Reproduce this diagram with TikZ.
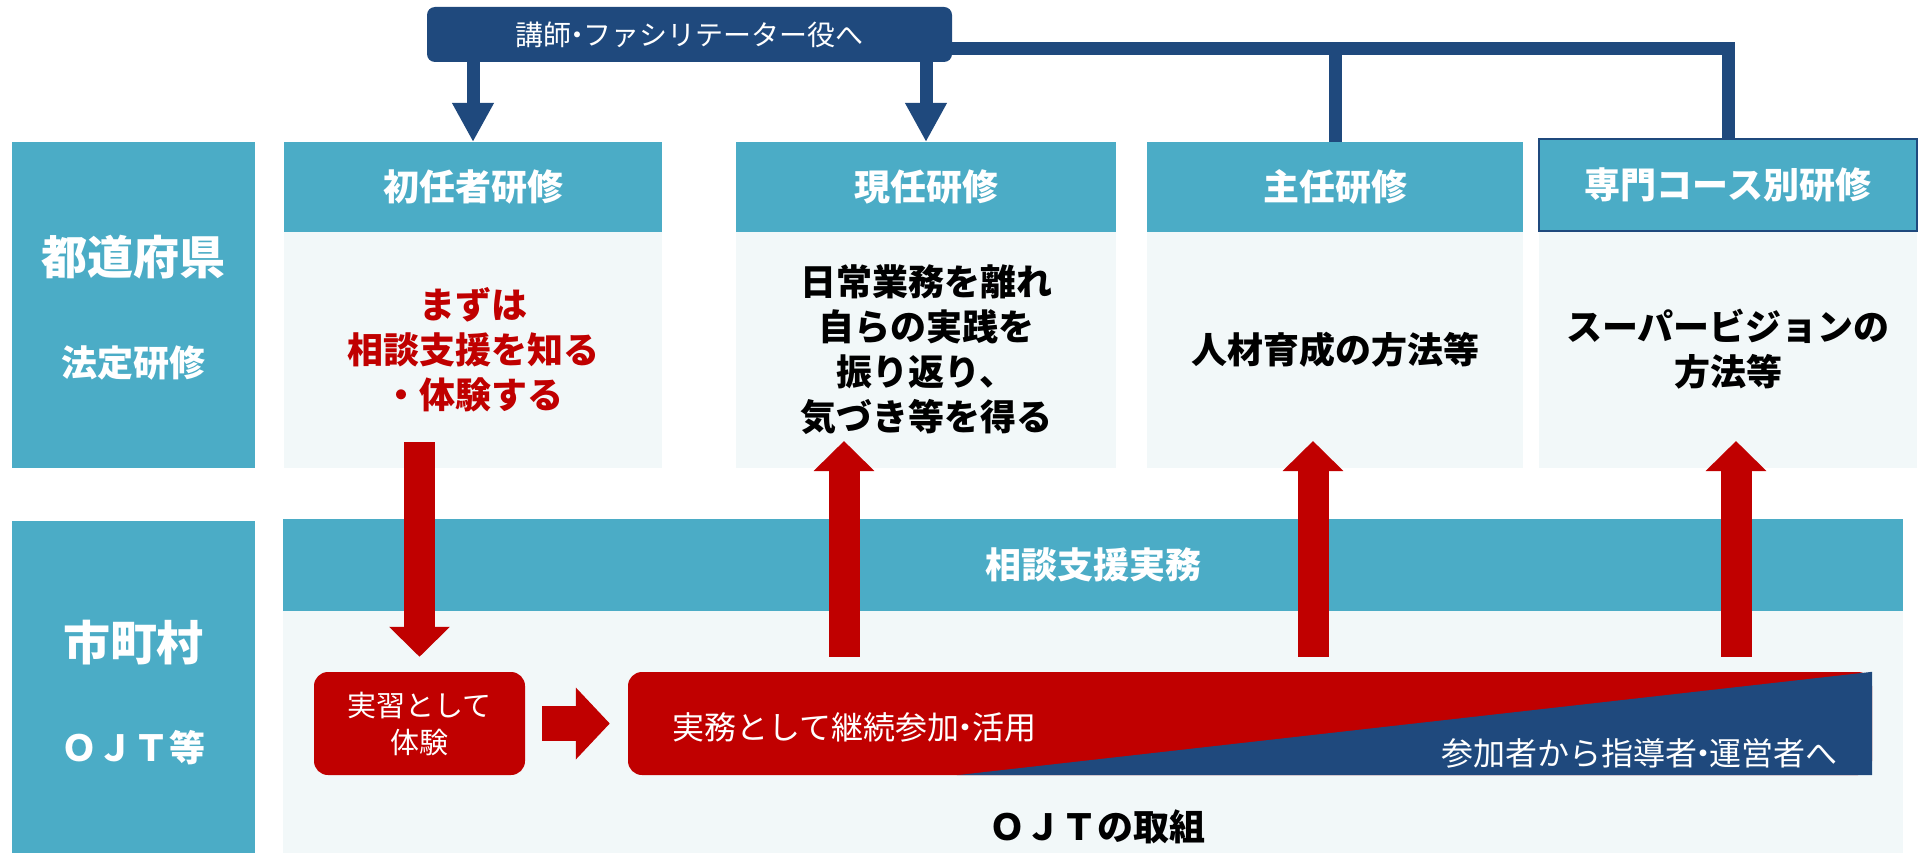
\documentclass[tikz,border=0pt]{standalone}
\usepackage{fontspec}
\setmainfont{Noto Sans CJK JP}
\usetikzlibrary{arrows.meta}
\usetikzlibrary{positioning}
\usetikzlibrary{calc}

\definecolor{aqua}{HTML}{4BACC6}
\definecolor{navy}{HTML}{1F497D}
\definecolor{dred}{HTML}{C00000}
\definecolor{pale}{HTML}{F2F8F9}

% narrow middle dot
\newcommand{\ndot}{\kern-0.3em・\kern-0.3em}

\begin{document}
\begin{tikzpicture}[
    x=1pt, y=-1pt,
    box/.style={
        inner sep=0pt, outer sep=0pt,
        minimum width=378pt,
        align=center
    },
    hdr/.style={box, fill=aqua, text=white, minimum height=90pt,
        font=\bfseries\fontsize{36}{45}\selectfont},
    body/.style={box, fill=pale, minimum height=236pt,
        font=\bfseries\fontsize{36}{45}\selectfont},
    side/.style={box, fill=aqua, minimum width=243pt},
    sidetxt/.style={inner sep=0pt, text=white, font=\bfseries\fontsize{#1}{#1}\selectfont},
    navyline/.style={draw=navy, line width=13pt},
    navyarrow/.style={navyline, -{Triangle[length=39pt, width=39pt]}},
    redarrow/.style={draw=dred, line width=31pt, -{Triangle[length=30pt, width=59pt]}}
]
\useasboundingbox (0,0) rectangle (1923,853);

% prefecture row
\node[side, minimum height=326pt] (pref) at (133.5,305) {};
\node[sidetxt=46] (preft) at (133.5,257) {都道府県};
\node[sidetxt=36] (prefs) at (133.5,363) {法定研修};

\node[hdr] (h1) at (473,187) {初任者研修};
\node[body, below=0pt of h1, text=dred] (b1) {まずは\\相談支援を知る\\・体験する};
\node[hdr, minimum width=380pt] (h2) at (926,187) {現任研修};
\node[body, minimum width=380pt, below=0pt of h2] (b2) {日常業務を離れ\\自らの実践を\\振り返り、\\気づき等を得る};
\node[hdr, minimum width=376pt] (h3) at (1335,187) {主任研修};
\node[body, minimum width=376pt, below=0pt of h3] (b3) {人材育成の方法等};
\node[body, minimum height=237pt] (b4) at (1728,349.5) {スーパービジョンの\\方法等};
\node[hdr, minimum height=92pt, draw=navy, line width=2pt, above=0pt of b4] (h4) {専門コース別研修};

% trainer banner
\node[fill=navy, text=white, rounded corners=8pt, minimum width=525pt, minimum height=55pt,
    inner sep=0pt, font=\fontsize{28}{28}\selectfont] (tr) at (689.5,34.5) {講師\ndot ファシリテーター役へ};
\draw[navyarrow] (h1.north |- tr.south) -- (h1.north);
\draw[navyarrow] (h2.north |- tr.south) -- (h2.north);
\draw[navyline] ([yshift=-14pt]tr.east) -| (h3.north);
\draw[navyline] ([yshift=-14pt]tr.east) -| (h4.north);

% municipality row
\node[side, minimum height=332pt] (muni) at (133.5,687) {};
\node[sidetxt=47] (munit) at (133.5,643) {市町村};
\node[sidetxt=36] (munis) at (133.5,748) {ＯＪＴ等};

\node[box, fill=aqua, text=white, minimum width=1620pt, minimum height=92pt,
    font=\bfseries\fontsize{36}{36}\selectfont] (prac) at (1093,565) {相談支援実務};
\node[box, fill=pale, minimum width=1620pt, minimum height=242pt, below=0pt of prac] (ojt) {};

\node[fill=dred, text=white, rounded corners=14pt, minimum width=211pt, minimum height=103pt,
    inner sep=0pt, align=center, font=\fontsize{29}{37}\selectfont] (exp) at (419.5,723.5) {実習として\\体験};
\node[fill=dred, rounded corners=14pt, minimum width=1244pt, minimum height=103pt,
    inner sep=0pt] (work) at (1250,723.5) {};
\fill[navy] ($(work.south west)+(329,0)$) -- (work.north east) -- (work.south east) -- cycle;
\node[anchor=west, inner sep=0pt, text=white, font=\fontsize{32}{32}\selectfont] (workt) at (672,727) {実務として継続参加\ndot 活用};
\node[anchor=east, inner sep=0pt, text=white, font=\fontsize{32}{32}\selectfont] (lead) at (1838,753) {参加者から指導者\ndot 運営者へ};
\node[inner sep=0pt, font=\bfseries\fontsize{36}{36}\selectfont] (ojtt) at (1097,827) {ＯＪＴの取組};

% red arrows
\coordinate (u2) at (844,0);
\coordinate (u3) at (1313,0);
\coordinate (u4) at (1736,0);
\draw[redarrow] ($(exp.north |- b1.south)+(0,-26)$) -- ($(exp.north)+(0,-15)$);
\draw[redarrow] ($(u2 |- work.north)+(0,-15)$) -- ($(u2 |- b2.south)+(0,-27)$);
\draw[redarrow] ($(u3 |- work.north)+(0,-15)$) -- ($(u3 |- b3.south)+(0,-27)$);
\draw[redarrow] ($(u4 |- work.north)+(0,-15)$) -- ($(u4 |- b4.south)+(0,-27)$);
\draw[draw=dred, line width=35pt, -{Triangle[length=34pt, width=70pt]},
    shorten <=17pt, shorten >=18pt] (exp.east) -- (work.west);
\end{tikzpicture}
\end{document}
